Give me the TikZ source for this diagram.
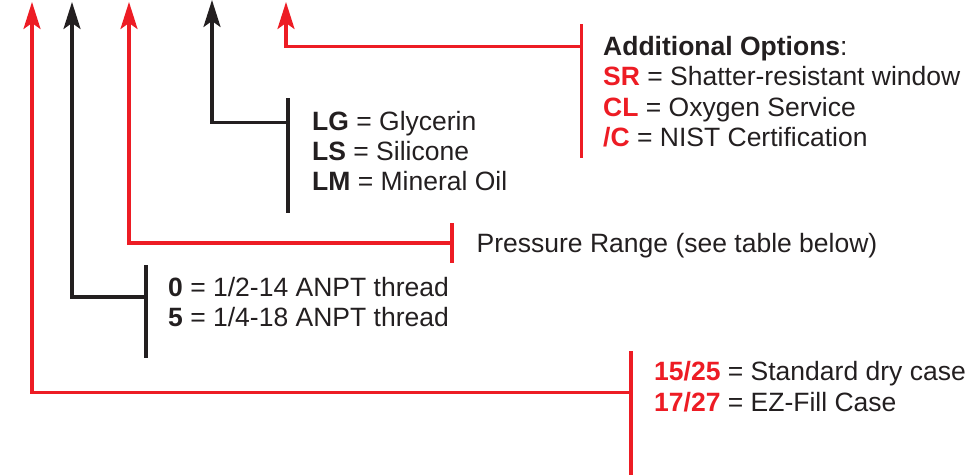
\documentclass[tikz,border=0pt]{standalone}
\usepackage{fontspec}
\setmainfont{Liberation Sans}
\usetikzlibrary{arrows.meta}
\definecolor{ared}{HTML}{ED1C24}
\definecolor{aink}{HTML}{231F20}
\begin{document}
\begin{tikzpicture}[x=1pt,y=-1pt,
  txt/.style={anchor=base west,inner sep=0pt,font=\fontsize{26.5}{30}\selectfont,text=aink},
  lead/.style={line width=3.1pt},
  tip/.style={-{Stealth[length=27pt,width=17pt,inset=6pt]}}]
\useasboundingbox (0,0) rectangle (969,474);
% arrow tips
\coordinate (t1) at (32,2);
\coordinate (t2) at (72,2);
\coordinate (t3) at (129,2);
\coordinate (t4) at (212,0);
\coordinate (t5) at (286,2);
% bracket junctions and ends
\coordinate (j1) at (631,392.5);  \coordinate (b1a) at (631,351); \coordinate (b1b) at (631,476);
\coordinate (j2) at (146,297);    \coordinate (b2a) at (146,265); \coordinate (b2b) at (146,358);
\coordinate (j3) at (452,243);    \coordinate (b3a) at (452,223); \coordinate (b3b) at (452,263);
\coordinate (j4) at (288,122.5);  \coordinate (b4a) at (288,98);  \coordinate (b4b) at (288,213);
\coordinate (j5) at (581.5,46.5); \coordinate (b5a) at (581.5,24); \coordinate (b5b) at (581.5,158);
% leaders
\draw[lead,ared,tip] (j1) -| (t1);
\draw[lead,aink,tip] (j2) -| (t2);
\draw[lead,ared,tip] (j3) -| (t3);
\draw[lead,aink,tip] (j4) -| (t4);
\draw[lead,ared,tip] (j5) -| (t5);
% brackets
\draw[lead,ared] (b1a) -- (b1b);
\draw[lead,aink] (b2a) -- (b2b);
\draw[lead,ared] (b3a) -- (b3b);
\draw[lead,aink] (b4a) -- (b4b);
\draw[lead,ared] (b5a) -- (b5b);
% texts
\node[txt] (ao) at (603,55) {\textbf{Additional Options}:};
\node[txt] (sr) at (603,85.5) {\textcolor{ared}{\textbf{SR}} = Shatter-resistant window};
\node[txt] (cl) at (603,116) {\textcolor{ared}{\textbf{CL}} = Oxygen Service};
\node[txt] (nc) at (603,146.5) {\textcolor{ared}{\textbf{/C}} = NIST Certification};
\node[txt] (lg) at (312,130) {\textbf{LG} = Glycerin};
\node[txt] (ls) at (312,160) {\textbf{LS} = Silicone};
\node[txt] (lm) at (312,190) {\textbf{LM} = Mineral Oil};
\node[txt] (pr) at (476.5,252) {Pressure Range (see table below)};
\node[txt] (z0) at (168,296) {\textbf{0} = 1/2-14 ANPT thread};
\node[txt] (z5) at (168,326.5) {\textbf{5} = 1/4-18 ANPT thread};
\node[txt] (c15) at (654,380) {\textcolor{ared}{\textbf{15/25}} = Standard dry case};
\node[txt] (c17) at (654,411) {\textcolor{ared}{\textbf{17/27}} = EZ-Fill Case};
\end{tikzpicture}
\end{document}
